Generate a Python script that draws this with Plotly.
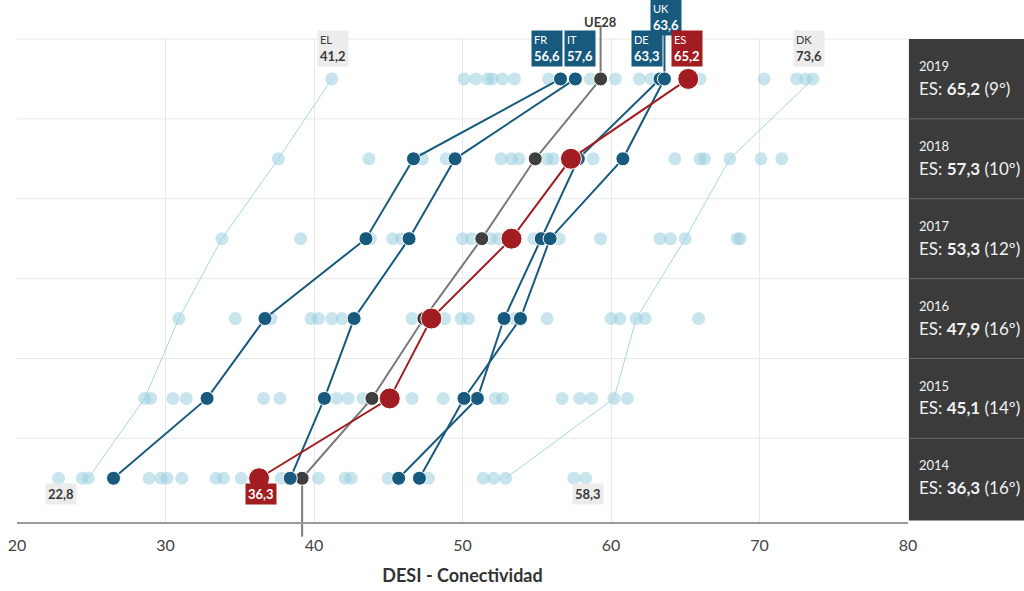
import plotly.graph_objects as go

# ---------------- data ----------------
years = [2014, 2015, 2016, 2017, 2018, 2019]

others_2014 = [22.8, 24.4, 28.9, 29.7, 30.1, 31.1, 33.4, 33.9, 35.1, 37.8, 40.3, 42.1, 42.5, 45.0, 47.7, 51.4, 52.1, 57.5, 58.3]
others_2015 = [29.0, 30.5, 31.4, 36.6, 37.7, 41.5, 42.3, 43.3, 46.6, 48.7, 52.2, 52.7, 56.7, 57.9, 58.7, 61.1]
others_2016 = [34.7, 37.1, 39.8, 40.3, 41.2, 41.9, 46.6, 48.8, 49.9, 50.4, 53.5, 55.7, 60.0, 60.6, 62.3, 65.9]
others_2017 = [39.1, 43.8, 45.3, 45.9, 50.0, 50.6, 51.9, 52.4, 54.8, 56.5, 59.3, 63.3, 64.0, 68.5, 68.7]
others_2018 = [43.7, 47.3, 48.9, 52.6, 53.3, 53.8, 55.7, 56.1, 58.8, 64.3, 66.0, 66.3, 70.1, 71.5]
others_2019 = [50.1, 50.9, 51.7, 52.0, 52.7, 53.5, 55.8, 58.6, 60.3, 61.9, 62.7, 66.0, 70.3, 72.5, 73.1]

fr = [26.5, 32.8, 36.7, 43.5, 46.7, 56.6]
it = [38.4, 40.7, 42.7, 46.4, 49.5, 57.6]
de = [45.7, 51.0, 52.8, 55.3, 57.8, 63.3]
uk = [47.1, 50.1, 53.9, 55.9, 60.8, 63.6]
es = [36.3, 45.1, 47.9, 53.3, 57.3, 65.2]
ue28 = [39.2, 43.9, 47.4, 51.3, 54.9, 59.3]
el = [24.8, 28.6, 30.9, 33.8, 37.6, 41.2]
dk = [52.9, 60.2, 61.7, 65.0, 68.0, 73.6]
es_rank = [16, 14, 16, 12, 10, 9]

min_2014 = 22.8
max_2014 = 58.3

# ---------------- style ----------------
FONT = "Lato"
DARK_BLUE = "#175a7e"
RED = "#a11d21"
GREY_DOT = "#3f3f3f"
GREY_LINE = "#7a7a7a"
LIGHT = "rgba(150,205,220,0.52)"
LIGHT_LINE = "#a9d6e3"
PANEL = "#3b3b3b"

YMIN, YMAX = -0.56, 5.5


def py(v):
    return (v - YMIN) / (YMAX - YMIN)


def fmt(v):
    return f"{v:.1f}".replace(".", ",")


rows = list(range(len(years)))
others = [others_2014, others_2015, others_2016, others_2017, others_2018, others_2019]

fig = go.Figure()

# all countries as light dots
all_x, all_y = [], []
for i, vals in enumerate(others):
    for v in vals + [fr[i], it[i], de[i], uk[i], es[i], el[i], dk[i]]:
        all_x.append(v)
        all_y.append(i)
fig.add_trace(go.Scatter(x=all_x, y=all_y, mode="markers",
                         marker=dict(size=13, color=LIGHT, line=dict(width=0)),
                         hoverinfo="x", cliponaxis=False))

# thin lines for EL and DK
for series in (el, dk):
    fig.add_trace(go.Scatter(x=series, y=rows, mode="lines",
                             line=dict(color=LIGHT_LINE, width=1), hoverinfo="skip"))

# UE28
fig.add_trace(go.Scatter(x=ue28, y=rows, mode="lines+markers",
                         line=dict(color=GREY_LINE, width=2),
                         marker=dict(size=14, color=GREY_DOT, line=dict(color="white", width=1)),
                         cliponaxis=False))

# highlighted countries
for series in (fr, it, de, uk):
    fig.add_trace(go.Scatter(x=series, y=rows, mode="lines+markers",
                             line=dict(color=DARK_BLUE, width=2),
                             marker=dict(size=14, color=DARK_BLUE, line=dict(color="white", width=1)),
                             cliponaxis=False))

# Spain
fig.add_trace(go.Scatter(x=es, y=rows, mode="lines+markers",
                         line=dict(color=RED, width=2),
                         marker=dict(size=21, color=RED, line=dict(color="white", width=1)),
                         cliponaxis=False))

shapes = []
# horizontal grid lines (row separators)
for k in range(len(years)):
    shapes.append(dict(type="line", xref="x", yref="paper", x0=20, x1=80,
                       y0=py(k + 0.5), y1=py(k + 0.5),
                       line=dict(color="#e8e8e8", width=1), layer="below"))
# bottom axis line
shapes.append(dict(type="line", xref="x", yref="paper", x0=20, x1=80, y0=0, y1=0,
                   line=dict(color="#9a9a9a", width=2)))
# right panel
shapes.append(dict(type="rect", xref="paper", yref="paper", x0=1.001, x1=1.15,
                   y0=py(-0.53), y1=1.0, fillcolor=PANEL, line=dict(width=0)))
for k in range(len(years) - 1):
    shapes.append(dict(type="line", xref="paper", yref="paper", x0=1.001, x1=1.15,
                       y0=py(k + 0.5), y1=py(k + 0.5),
                       line=dict(color="#6a6a6a", width=1)))
# UE28 connectors
shapes.append(dict(type="line", xref="x", yref="paper", x0=ue28[-1], x1=ue28[-1],
                   y0=py(5), y1=py(5.67), line=dict(color=GREY_LINE, width=2), layer="below"))
shapes.append(dict(type="line", xref="x", yref="paper", x0=ue28[0], x1=ue28[0],
                   y0=py(0), y1=py(-0.73), line=dict(color=GREY_LINE, width=2), layer="below"))
# UK connector
shapes.append(dict(type="line", xref="x", yref="paper", x0=uk[-1], x1=uk[-1],
                   y0=py(5), y1=py(5.6), line=dict(color=DARK_BLUE, width=2), layer="below"))

annotations = []


def box(code, v, dx, yv, bg, fg):
    annotations.append(dict(
        x=v + dx, xref="x", y=py(yv), yref="paper",
        text=f"<span style='font-size:11px'>{code}</span><br><b>{fmt(v)}</b>",
        showarrow=False, align="left", bgcolor=bg, borderpad=2,
        font=dict(family=FONT, size=13, color=fg), xanchor="center", yanchor="middle"))


box("EL", el[-1], 0.1, 5.38, "#ececec", "#3a3a3a")
box("FR", fr[-1], -0.9, 5.38, DARK_BLUE, "white")
box("IT", it[-1], 0.3, 5.38, DARK_BLUE, "white")
box("DE", de[-1], -0.9, 5.38, DARK_BLUE, "white")
box("UK", uk[-1], 0.1, 5.77, DARK_BLUE, "white")
box("ES", es[-1], -0.1, 5.38, RED, "white")
box("DK", dk[-1], -0.3, 5.38, "#ececec", "#3a3a3a")

annotations.append(dict(x=ue28[-1], xref="x", y=py(5.84), yref="paper", text="<b>UE28</b>",
                        showarrow=False, font=dict(family=FONT, size=13, color="#3a3a3a")))


def bottom_box(v, bg, fg):
    annotations.append(dict(x=v + 0.15, xref="x", y=py(-0.33), yref="paper",
                            text=f"<b>{fmt(v)}</b>", showarrow=False, bgcolor=bg, borderpad=2,
                            font=dict(family=FONT, size=13, color=fg)))


bottom_box(min_2014, "#ececec", "#3a3a3a")
bottom_box(es[0], RED, "white")
bottom_box(max_2014, "#ececec", "#3a3a3a")

# right panel texts
for i, yr in enumerate(years):
    annotations.append(dict(x=1.01, xref="paper", y=py(i + 0.16), yref="paper", text=str(yr),
                            showarrow=False, xanchor="left", yanchor="middle",
                            font=dict(family=FONT, size=13, color="#f0f0f0")))
    annotations.append(dict(x=1.01, xref="paper", y=py(i - 0.12), yref="paper",
                            text=f"ES: <b>{fmt(es[i])}</b> ({es_rank[i]}º)",
                            showarrow=False, xanchor="left", yanchor="middle",
                            font=dict(family=FONT, size=17, color="#f0f0f0")))

fig.update_layout(
    width=1024, height=591,
    margin=dict(l=8, r=116, t=39, b=65),
    plot_bgcolor="white", paper_bgcolor="white",
    showlegend=False,
    font=dict(family=FONT, color="#333"),
    shapes=shapes, annotations=annotations,
    xaxis=dict(range=[20, 80], tickvals=[20, 30, 40, 50, 60, 70, 80],
               showgrid=True, gridcolor="#e8e8e8", zeroline=False, showline=False,
               ticks="", tickfont=dict(family=FONT, size=16, color="#444"),
               ticklabelstandoff=11, ticklabeloverflow="allow",
               title=dict(text="<b>DESI - Conectividad</b>",
                          font=dict(family=FONT, size=18, color="#333"), standoff=16)),
    yaxis=dict(range=[YMIN, YMAX], visible=False),
)

fig.write_html("out.html", config={"displayModeBar": False},
               post_script="document.body.style.margin='0';document.body.style.overflow='hidden';")
